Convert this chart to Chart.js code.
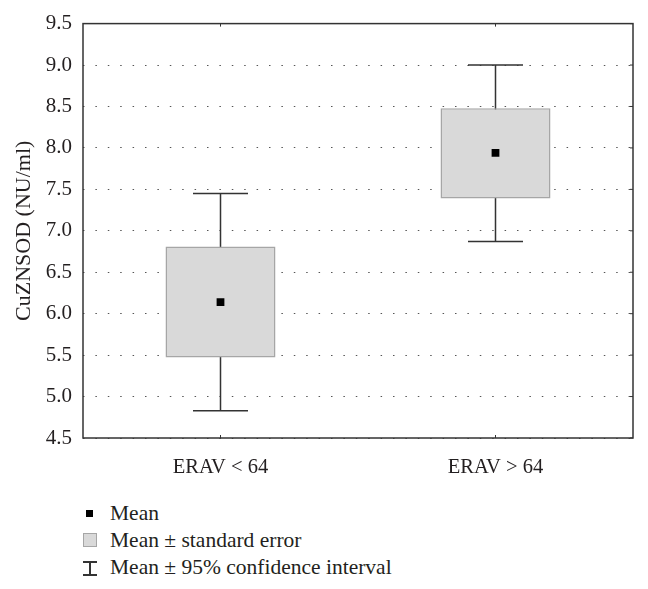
<!DOCTYPE html>
<html>
<head>
<meta charset="utf-8">
<script src="https://cdn.jsdelivr.net/npm/chart.js@4.4.1/dist/chart.umd.min.js"></script>
<style>
  body { margin: 0; background: #fff; }
  #wrap { position: absolute; left: 0; top: 0; width: 648px; height: 480px; }
  .legend { position: absolute; left: 0; top: 0; font-family: "Liberation Serif", serif; font-size: 21.5px; color: #231f20; }
  .row { position: absolute; left: 110px; height: 27px; line-height: 27px; white-space: nowrap; }
  .ico { position: absolute; }
</style>
</head>
<body>
<div id="wrap"><canvas id="box"></canvas></div>

<div class="legend">
  <div class="ico" style="left:86px; top:510px; width:7px; height:7px; background:#000;"></div>
  <div class="row" style="top:500px;">Mean</div>
  <div class="ico" style="left:83px; top:533px; width:12px; height:12px; background:#d9d9d9; border:1px solid #a6a6a6;"></div>
  <div class="row" style="top:527px;">Mean ± standard error</div>
  <div class="ico" style="left:83px; top:561px; width:14px; height:1.5px; background:#333;"></div>
  <div class="ico" style="left:89px; top:561px; width:1.5px; height:14px; background:#333;"></div>
  <div class="ico" style="left:83px; top:574px; width:14px; height:1.5px; background:#333;"></div>
  <div class="row" style="top:554px;">Mean ± 95% confidence interval</div>
</div>

<script>
// data
const groups = ["ERAV < 64", "ERAV > 64"];
const means = [6.14, 7.94];
const seLow = [5.47, 7.39];
const seHigh = [6.81, 8.48];
const ciLow = [4.83, 6.87];
const ciHigh = [7.45, 9.0];

const serif = "'Liberation Serif', 'Times New Roman', serif";
Chart.defaults.font.family = serif;
Chart.defaults.color = "#231f20";

// whiskers (95% CI) and frame, placed through the chart scales
const whiskers = {
  id: "whiskers",
  beforeDatasetsDraw(chart) {
    const { ctx, scales: { x, y } } = chart;
    const step = x.getPixelForValue(1) - x.getPixelForValue(0);
    const half = step * 0.1;
    ctx.save();
    ctx.strokeStyle = "#333";
    ctx.lineWidth = 1.5;
    groups.forEach((g, i) => {
      const px = x.getPixelForValue(i);
      const lo = y.getPixelForValue(ciLow[i]);
      const hi = y.getPixelForValue(ciHigh[i]);
      ctx.beginPath();
      ctx.moveTo(px, lo);
      ctx.lineTo(px, hi);
      ctx.moveTo(px - half, lo);
      ctx.lineTo(px + half, lo);
      ctx.moveTo(px - half, hi);
      ctx.lineTo(px + half, hi);
      ctx.stroke();
    });
    ctx.restore();
  },
  afterDraw(chart) {
    const { ctx, chartArea: a, scales: { x, y } } = chart;
    ctx.save();
    ctx.strokeStyle = "#333";
    ctx.lineWidth = 1.5;
    ctx.strokeRect(a.left, a.top, a.right - a.left, a.bottom - a.top);
    ctx.lineWidth = 1;
    ctx.beginPath();
    y.ticks.forEach(t => {
      const py = y.getPixelForValue(t.value);
      ctx.moveTo(a.right - 3, py);
      ctx.lineTo(a.right, py);
    });
    groups.forEach((g, i) => {
      const px = x.getPixelForValue(i);
      ctx.moveTo(px, a.top);
      ctx.lineTo(px, a.top + 3);
      ctx.moveTo(px, a.bottom);
      ctx.lineTo(px, a.bottom - 3);
    });
    ctx.stroke();
    ctx.restore();
  }
};

new Chart(document.getElementById("box"), {
  data: {
    labels: groups,
    datasets: [
      {
        type: "line",
        label: "Mean",
        data: means,
        showLine: false,
        pointStyle: "rect",
        pointRadius: 5.5,
        pointHoverRadius: 5.5,
        backgroundColor: "#000",
        borderWidth: 0,
        order: 0,
      },
      {
        type: "bar",
        label: "Mean ± standard error",
        data: seLow.map((v, i) => [v, seHigh[i]]),
        backgroundColor: "#d9d9d9",
        borderColor: "#a6a6a6",
        borderWidth: 1.5,
        borderSkipped: false,
        barPercentage: 0.4,
        categoryPercentage: 1.0,
        order: 1,
      },
    ],
  },
  plugins: [whiskers],
  options: {
    responsive: true,
    maintainAspectRatio: false,
    animation: false,
    layout: { padding: { top: 22, right: 15, left: 0, bottom: 0 } },
    plugins: {
      legend: { display: false },
      tooltip: { enabled: false },
    },
    scales: {
      x: {
        type: "category",
        offset: true,
        grid: { display: false },
        border: { display: false },
        ticks: { font: { size: 20.5 }, color: "#231f20", padding: 9 },
        afterFit(s) { s.height = 42; },
      },
      y: {
        min: 4.5,
        max: 9.5,
        grid: { color: "#555", lineWidth: 1, drawTicks: false },
        border: { display: false, dash: [1.5, 10.9] },
        ticks: {
          stepSize: 0.5,
          font: { size: 21 },
          color: "#231f20",
          padding: 11,
          callback: v => v.toFixed(1),
        },
        title: {
          display: true,
          text: "CuZNSOD (NU/ml)",
          font: { size: 22 },
          color: "#231f20",
          padding: { top: 11, bottom: 0 },
        },
        afterFit(s) { s.width = 83; },
      },
    },
  },
});
</script>
</body>
</html>
